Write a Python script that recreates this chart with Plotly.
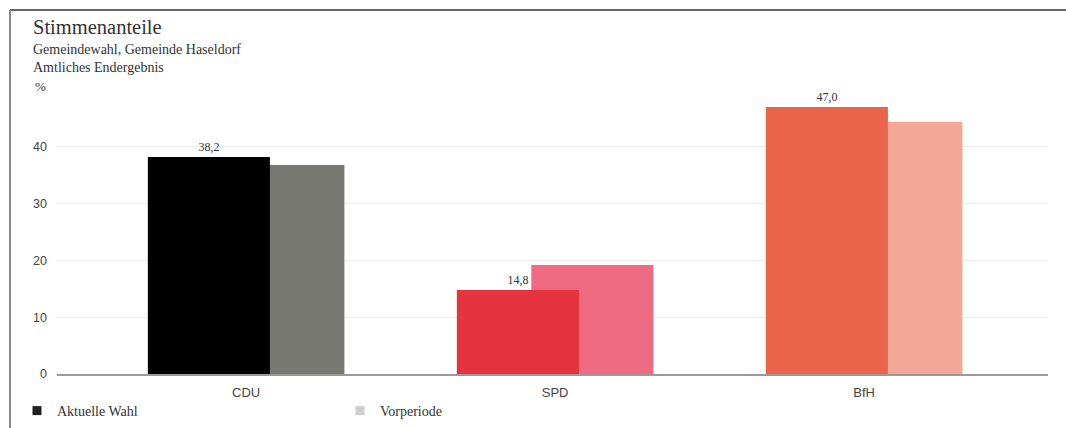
import plotly.graph_objects as go

# ---- data ----
categories = ["CDU", "SPD", "BfH"]
current_values = [38.2, 14.8, 47.0]
previous_values = [36.8, 19.2, 44.4]
y_ticks = [0, 10, 20, 30, 40]
series_names = ["Aktuelle Wahl", "Vorperiode"]

# ---- styles ----
current_colors = ["#000000", "#e5333f", "#e9644b"]
previous_colors = ["#787873", "#ee6b81", "#f3a797"]
legend_colors = ["#222222", "#cfcfcf"]

SERIF = "Liberation Serif, Times New Roman, serif"
SANS = "Liberation Sans, Arial, sans-serif"

W, H = 1066, 428
ML, MR, MT, MB = 57, 18, 90, 54
PW, PH = W - ML - MR, H - MT - MB
BASE_Y = H - MB  # pixel row of the x axis


def px_x(px):
    return (px - ML) / PW


def px_y(py):
    return (BASE_Y - py) / PH


BAR_W = 0.395
CUR_OFF = -0.318
PREV_OFF = -0.077

labels = [f"{v:.1f}".replace(".", ",") for v in current_values]

fig = go.Figure()
# value labels (drawn underneath the bars)
fig.add_trace(go.Bar(
    x=categories, y=current_values, width=BAR_W, offset=CUR_OFF,
    marker=dict(color="rgba(0,0,0,0)", line=dict(width=0)),
    text=labels, textposition="outside", cliponaxis=False,
    constraintext="none",
    outsidetextfont=dict(family=SERIF, size=12, color="#333333"),
    showlegend=False, hoverinfo="skip"))
fig.add_trace(go.Bar(
    x=categories, y=previous_values, width=BAR_W, offset=PREV_OFF,
    marker=dict(color=previous_colors, line=dict(width=0)),
    name=series_names[1], showlegend=False))
fig.add_trace(go.Bar(
    x=categories, y=current_values, width=BAR_W, offset=CUR_OFF,
    marker=dict(color=current_colors, line=dict(width=0)),
    name=series_names[0], showlegend=False))
for name, col in zip(series_names, legend_colors):
    fig.add_trace(go.Scatter(
        x=[None], y=[None], mode="markers", name=name,
        marker=dict(symbol="square", size=9, color=col)))

fig.update_layout(
    width=W, height=H, autosize=False,
    margin=dict(l=ML, r=MR, t=MT, b=MB, autoexpand=False),
    paper_bgcolor="white", plot_bgcolor="white",
    barmode="overlay",
    showlegend=True,
    legend=dict(orientation="h",
                xref="container", yref="container",
                x=17 / W, y=(H - 411) / H,
                xanchor="left", yanchor="middle",
                entrywidth=278, entrywidthmode="pixels",
                font=dict(family=SERIF, size=14, color="#333333"),
                bgcolor="rgba(0,0,0,0)"),
    xaxis=dict(range=[-0.612, 2.595], showgrid=False, showline=True,
               linecolor="#9a9a9a", linewidth=1.5,
               tickfont=dict(family=SANS, size=13, color="#444444"),
               ticklabelstandoff=6, fixedrange=True),
    yaxis=dict(range=[0, 50], tickvals=y_ticks, showgrid=True,
               gridcolor="#ececec", gridwidth=1, zeroline=False,
               tickfont=dict(family=SANS, size=12.5, color="#444444"),
               ticklabelstandoff=9, fixedrange=True),
    annotations=[
        dict(text="Stimmenanteile", x=px_x(31), y=px_y(27), xref="paper", yref="paper",
             xanchor="left", yanchor="middle", showarrow=False,
             font=dict(family=SERIF, size=20.5, color="#333333")),
        dict(text="Gemeindewahl, Gemeinde Haseldorf", x=px_x(31), y=px_y(49),
             xref="paper", yref="paper", xanchor="left", yanchor="middle",
             showarrow=False, font=dict(family=SERIF, size=14, color="#333333")),
        dict(text="Amtliches Endergebnis", x=px_x(31), y=px_y(67),
             xref="paper", yref="paper", xanchor="left", yanchor="middle",
             showarrow=False, font=dict(family=SERIF, size=14, color="#333333")),
        dict(text="%", x=px_x(33), y=px_y(87), xref="paper", yref="paper",
             xanchor="left", yanchor="middle", showarrow=False,
             font=dict(family=SERIF, size=13, color="#333333")),
    ],
    shapes=[
        dict(type="line", xref="paper", yref="paper",
             x0=px_x(10), x1=px_x(W), y0=px_y(10), y1=px_y(10),
             line=dict(color="#333333", width=1.5)),
        dict(type="line", xref="paper", yref="paper",
             x0=px_x(10), x1=px_x(10), y0=px_y(10), y1=px_y(H + 20),
             line=dict(color="#888888", width=2)),
    ],
)

fig.write_html(
    "out.html",
    config={"displayModeBar": False, "responsive": False},
    post_script="document.body.style.margin='0';document.body.style.overflow='hidden';",
)
